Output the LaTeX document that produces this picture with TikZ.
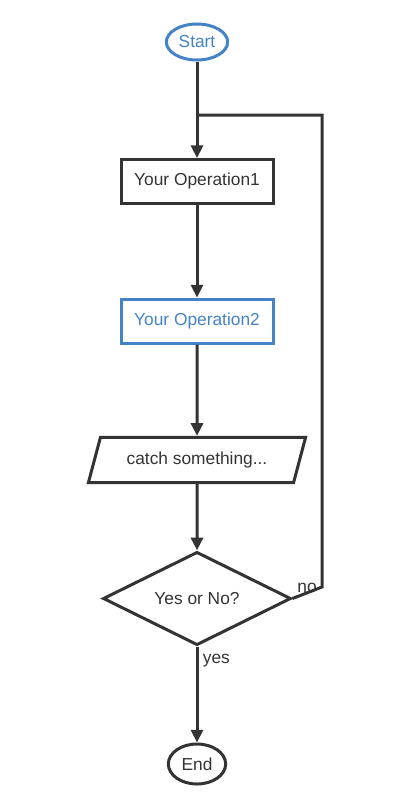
\documentclass[tikz,border=0pt]{standalone}
\usepackage{fontspec}
\setmainfont{Liberation Sans}
\usetikzlibrary{shapes.geometric, arrows.meta}

\definecolor{flowblue}{RGB}{68,131,197}
\definecolor{flowdark}{RGB}{51,51,51}

\begin{document}
\begin{tikzpicture}[
  x=0.75pt, y=-0.75pt,
  >={Triangle[length=9.5pt, width=9pt]},
  every node/.style={font=\fontsize{13}{15}\selectfont, text=flowdark},
  terminal/.style={ellipse, draw=flowdark, line width=2.25pt, inner sep=0pt},
  opbox/.style={rectangle, draw=flowdark, line width=2.25pt, minimum width=114pt, minimum height=33pt},
  iobox/.style={trapezium, trapezium left angle=61.5, trapezium right angle=118.5,
    trapezium stretches=true, draw=flowdark, line width=2.25pt,
    minimum width=163pt, minimum height=34pt, inner sep=0pt},
  decision/.style={diamond, shape aspect=2, draw=flowdark, line width=2.25pt, inner sep=0pt,
    minimum width=141pt, minimum height=70pt},
  flow/.style={line width=2.25pt, draw=flowdark}
]
  \useasboundingbox (0,0) rectangle (404,804);

  \node[terminal, draw=flowblue, text=flowblue, minimum width=46pt, minimum height=27pt] (start) at (197,42) {Start};
  \node[opbox] (op1) at (197,181.5) {Your Operation1};
  \node[opbox, draw=flowblue, text=flowblue] (op2) at (197,321) {Your Operation2};
  \node[iobox] (catch) at (197,460) {catch something...};
  \node[decision] (dec) at (197,598.5) {Yes or No?};
  \node[terminal, minimum width=43pt, minimum height=30pt] (end) at (197,764) {End};

  \coordinate (loopc) at (322,587);
  \coordinate (join) at (197,115);

  \draw[flow, ->] (start) -- (op1);
  \draw[flow, ->] (op1) -- (op2);
  \draw[flow, ->] (op2) -- (catch);
  \draw[flow, ->] (catch) -- (dec);
  \draw[flow, ->] (dec) -- node[right, pos=0.15] (yeslbl) {yes} (end);
  \draw[flow, line join=miter] (dec.east) -- (loopc) |- (join);
  \node (nolbl) at (307,588) {no};
\end{tikzpicture}
\end{document}
